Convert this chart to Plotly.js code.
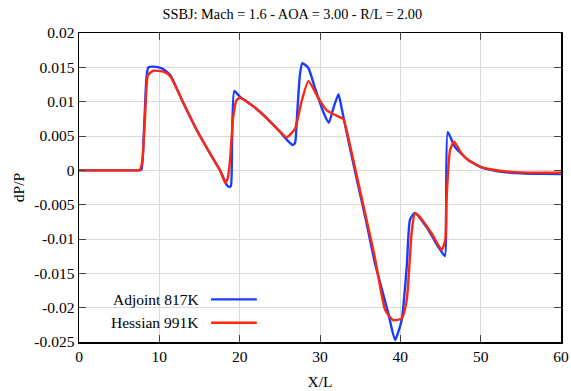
<!DOCTYPE html>
<html>
<head>
<meta charset="utf-8">
<script src="https://cdn.plot.ly/plotly-3.0.1.min.js"></script>
<style>html,body{margin:0;padding:0;background:#fff;}#chart{width:571px;height:391px;}</style>
</head>
<body>
<div id="chart"></div>
<script>
// Adjoint 817K (blue)
const adjointX = [0, 2, 4, 6, 7.2, 7.6, 7.8, 8.1, 8.4, 8.63, 9.25, 10.3, 11.35, 13.0, 14.65, 16.3, 17.55, 18.4, 18.65, 18.9, 19.05, 19.33, 20.05, 21.5, 23.2, 24.8, 26.0, 26.6, 26.9, 27.1, 27.5, 27.8, 28.55, 29.4, 30.4, 31.1, 31.65, 32.3, 32.7, 33.3, 34.6, 35.8, 36.85, 38.5, 39.34, 40.17, 40.8, 41.2, 41.8, 43.5, 44.7, 45.55, 45.7, 45.9, 46.8, 48.45, 50.1, 52.6, 55.1, 57.5, 60];
const adjointY = [0, 0, 0, 0, 0, 0, 0.0002, 0.006, 0.0135, 0.0150, 0.0151, 0.01486, 0.0139, 0.00976, 0.00587, 0.00248, 0, -0.00214, -0.0024, -0.0023, 0.004, 0.01155, 0.0107, 0.0095, 0.0078, 0.00587, 0.0043, 0.0037, 0.0040, 0.0071, 0.0139, 0.0156, 0.0149, 0.0119, 0.00853, 0.00693, 0.009, 0.0111, 0.009, 0.0056, -0.0014, -0.0077, -0.01355, -0.0208, -0.0247, -0.0218, -0.014, -0.0072, -0.0062, -0.0087, -0.0111, -0.01248, -0.006, 0.0056, 0.0034, 0.0015, 0.00044, -0.0002, -0.00044, -0.00052, -0.00054];
// Hessian 991K (red)
const hessianX = [0, 2, 4, 6, 7.0, 7.4, 7.6, 7.9, 8.2, 8.6, 9.25, 10.5, 11.35, 13.0, 14.65, 16.3, 17.55, 18.2, 18.5, 18.8, 19.2, 19.6, 20.05, 21.5, 23.2, 24.8, 25.85, 26.9, 27.7, 28.55, 29.8, 30.8, 31.9, 32.9, 33.3, 34.6, 35.8, 36.85, 38.1, 39.1, 40.17, 40.8, 41.4, 41.8, 42.2, 43.9, 45.15, 45.6, 45.75, 46.2, 46.7, 47.6, 48.45, 50.1, 52.6, 55.1, 57.5, 60];
const hessianY = [0, 0, 0, 0, 0, 0, 0.0001, 0.0015, 0.0073, 0.0139, 0.0145, 0.01436, 0.0137, 0.0098, 0.0059, 0.0025, 0, -0.0018, -0.0012, 0.0015, 0.0078, 0.0102, 0.01057, 0.0095, 0.0078, 0.0059, 0.0048, 0.0061, 0.0100, 0.0130, 0.0105, 0.00878, 0.00805, 0.00747, 0.0059, -0.0009, -0.0072, -0.0128, -0.0203, -0.0218, -0.0216, -0.0189, -0.0092, -0.0063, -0.0065, -0.0092, -0.0116, -0.0101, -0.0043, 0.0030, 0.00417, 0.0025, 0.0015, 0.00045, -0.0001, -0.0003, -0.00034, -0.00035];

const xTicks = [0, 10, 20, 30, 40, 50, 60];
const yTicks = [-0.025, -0.02, -0.015, -0.01, -0.005, 0, 0.005, 0.01, 0.015, 0.02];
const yTickText = ['-0.025', '-0.02', '-0.015', '-0.01', '-0.005', '0', '0.005', '0.01', '0.015', '0.02'];
const seriesNames = ['Adjoint 817K', 'Hessian 991K'];
const titleText = 'SSBJ: Mach = 1.6 - AOA = 3.00 - R/L = 2.00';

const BLUE = 'rgb(25,60,255)';
const RED = 'rgb(255,40,15)';
const FONT = 'Liberation Serif, Times New Roman, serif';

const traces = [
  {x: adjointX, y: adjointY, name: seriesNames[0], mode: 'lines', type: 'scatter',
   line: {color: BLUE, width: 2.4, shape: 'spline', smoothing: 0.5}},
  {x: hessianX, y: hessianY, name: seriesNames[1], mode: 'lines', type: 'scatter',
   line: {color: RED, width: 2.4, shape: 'spline', smoothing: 0.5}}
];

const axisCommon = {
  showline: true, linecolor: '#000', linewidth: 1.5, mirror: 'allticks',
  ticks: 'inside', ticklen: 7, tickcolor: '#444', tickwidth: 1,
  showgrid: true, gridcolor: '#dadada', gridwidth: 1, zeroline: false,
  tickfont: {family: FONT, size: 15.5, color: '#000'}
};

const layout = {
  width: 571, height: 391,
  margin: {l: 79, r: 10, t: 33, b: 49},
  paper_bgcolor: '#fff', plot_bgcolor: '#fff',
  showlegend: false,
  font: {family: FONT, size: 15.5, color: '#000'},
  title: {text: titleText, font: {family: FONT, size: 14.3, color: '#000'},
          x: 0.512, xref: 'container', xanchor: 'center', y: 0.964, yref: 'container', yanchor: 'middle'},
  xaxis: Object.assign({}, axisCommon, {
    range: [0, 60], tickvals: xTicks, ticktext: xTicks.map(String),
    title: {text: 'X/L', font: {family: FONT, size: 15.5}, standoff: 12}
  }),
  yaxis: Object.assign({}, axisCommon, {
    range: [-0.025, 0.02], tickvals: yTicks, ticktext: yTickText,
    title: {text: 'dP/P', font: {family: FONT, size: 15.5}, standoff: 6}
  }),
  shapes: [
    {type: 'rect', xref: 'paper', yref: 'paper', x0: 0.004, x1: 0.388, y0: 0.023, y1: 0.2, fillcolor: '#fff', line: {width: 0}, layer: 'between'},
    {type: 'line', xref: 'paper', yref: 'paper', x0: 0.274, x1: 0.369, y0: 0.138, y1: 0.138, line: {color: BLUE, width: 2.4}},
    {type: 'line', xref: 'paper', yref: 'paper', x0: 0.274, x1: 0.369, y0: 0.0625, y1: 0.0625, line: {color: RED, width: 2.4}}
  ],
  annotations: [
    {text: seriesNames[0], xref: 'paper', yref: 'paper', x: 0.253, y: 0.138, xanchor: 'right', yanchor: 'middle', showarrow: false, font: {family: FONT, size: 15.5, color: '#000'}},
    {text: seriesNames[1], xref: 'paper', yref: 'paper', x: 0.253, y: 0.0625, xanchor: 'right', yanchor: 'middle', showarrow: false, font: {family: FONT, size: 15.5, color: '#000'}}
  ]
};

Plotly.newPlot('chart', traces, layout, {staticPlot: true, displayModeBar: false});
</script>
</body>
</html>
